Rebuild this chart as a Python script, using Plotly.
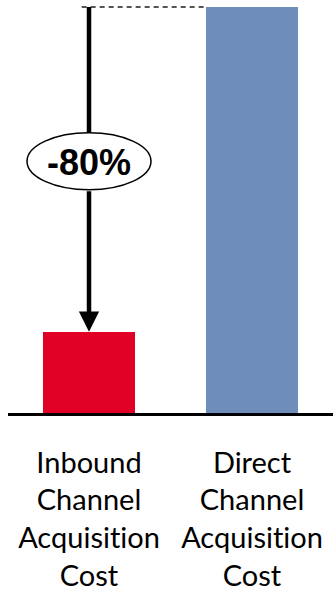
import plotly.graph_objects as go

NOLIG = '<span style="font-variant-ligatures:none;font-feature-settings:\'liga\' 0, \'calt\' 0">Acquisition</span>'
categories = ["Inbound<br>Channel<br>" + NOLIG + "<br>Cost",
              "Direct<br>Channel<br>" + NOLIG + "<br>Cost"]
values = [0.2, 1.0]
bar_colors = ["#E10026", "#6E8DB8"]
change_label = "-80%"

W, H = 333, 591
ml, mr, mt, mb = 8, 0, 0, 178
plot_h = H - mt - mb
px_per_unit_y = 406
y_top = plot_h / px_per_unit_y
px_per_unit_x = 163
x_lo = -0.5 + 0.5 / px_per_unit_x
x_hi = x_lo + (W - ml - mr) / px_per_unit_x

bar_w = 0.56
xs = [0, 1]

fig = go.Figure()
fig.add_trace(go.Bar(x=xs, y=values, marker=dict(color=bar_colors, line=dict(width=0)),
                     width=bar_w, showlegend=False, hoverinfo="skip"))

low, high = values[0], values[1]
yc = low + (high - low) * 0.525
ell_hw, ell_hh = 62, 28.5

# dashed reference line at the larger value
fig.add_shape(type="line", xref="x", yref="y", x0=xs[0] - 0.045, x1=xs[1] - bar_w / 2,
              y0=high, y1=high, line=dict(color="#555555", width=2, dash="5px,4px"))
# upper part of arrow shaft
fig.add_shape(type="line", xref="x", yref="y", x0=xs[0], x1=xs[0], y0=high, y1=yc,
              line=dict(color="black", width=4.5))
# ellipse
fig.add_shape(type="circle", xref="x", yref="y", xsizemode="pixel", ysizemode="pixel",
              xanchor=xs[0], yanchor=yc, x0=-ell_hw, x1=ell_hw, y0=-ell_hh, y1=ell_hh,
              fillcolor="white", line=dict(color="black", width=1.5))
# lower arrow with head
tail_offset = (yc - low) * px_per_unit_y - ell_hh
fig.add_annotation(x=xs[0], y=low, xref="x", yref="y", ax=0, ay=-tail_offset,
                   text="", showarrow=True, arrowhead=2, arrowsize=0.9, arrowwidth=4.5,
                   arrowcolor="black", standoff=0)
fig.add_annotation(x=xs[0], y=yc, xref="x", yref="y", text="<b>" + change_label + "</b>",
                   showarrow=False, font=dict(family="Liberation Sans, Arial", size=36, color="black"),
                   yshift=-1)

fig.update_layout(
    width=W, height=H, margin=dict(l=ml, r=mr, t=mt, b=mb, autoexpand=False),
    paper_bgcolor="white", plot_bgcolor="white", bargap=0,
    xaxis=dict(range=[x_lo, x_hi], tickmode="array", tickvals=xs, ticktext=categories,
               showgrid=False, zeroline=False, showline=True, linecolor="black", linewidth=2.5,
               ticks="", ticklabelstandoff=22, automargin=False,
               tickfont=dict(family="Lato", size=29, color="black"), fixedrange=True),
    yaxis=dict(range=[0, y_top], visible=False, showgrid=False, zeroline=False,
               fixedrange=True, automargin=False),
)

fig.write_html("out.html", config={"displayModeBar": False})
